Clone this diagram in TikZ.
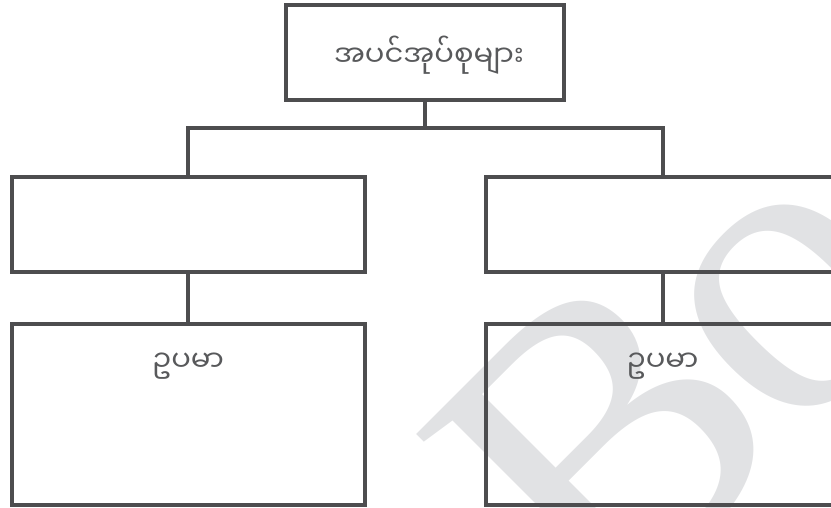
\documentclass[tikz,border=0pt]{standalone}
\usepackage{fontspec}
\newfontfamily\mmfont[Script=Myanmar]{Noto Sans Myanmar UI}
\newfontfamily\wmfont{Liberation Serif}
\definecolor{linec}{HTML}{4D4D4F}
\definecolor{textc}{HTML}{58595B}
\definecolor{wmc}{HTML}{E1E2E4}
\tikzset{
  box/.style={draw=linec, line width=4pt, inner sep=0pt},
  conn/.style={draw=linec, line width=4pt, line join=miter},
  lbl/.style={text=textc, font=\mmfont\fontsize{29}{34}\selectfont, inner sep=0pt},
  wm/.style={rotate=45, inner sep=0pt, text=wmc, font=\wmfont\fontsize{420}{420}\selectfont},
}
\begin{document}
\begin{tikzpicture}[x=1pt,y=1pt]
\useasboundingbox (0,0) rectangle (831,508);
\clip (0,0) rectangle (831,508);
% watermark
\node[wm] (wmB) at (605,66) {B};
\node[wm] (wmO) at (795,202) {o};
% boxes
\node[box, minimum width=278pt, minimum height=95pt] (top) at (425,455.5) {};
\node[lbl] (toplbl) at (429,453) {အပင်အုပ်စုများ};
\node[box, minimum width=353pt, minimum height=95pt] (ml) at (188,283) {};
\node[box, minimum width=353pt, minimum height=95pt] (mr) at (662.5,283) {};
\node[box, minimum width=353pt, minimum height=181pt] (bl) at (188,93) {};
\node[box, minimum width=353pt, minimum height=181pt] (br) at (662.5,93) {};
\node[lbl] (bllbl) at (188,142) {ဥပမာ};
\node[lbl] (brlbl) at (662.5,142) {ဥပမာ};
% connectors
\coordinate (j) at (425,379.5);
\draw[conn] (top.south) -- (j);
\draw[conn] (ml.north) -- (ml.north |- j) -- (mr.north |- j) -- (mr.north);
\draw[conn] (ml.south) -- (bl.north);
\draw[conn] (mr.south) -- (br.north);
\end{tikzpicture}
\end{document}
